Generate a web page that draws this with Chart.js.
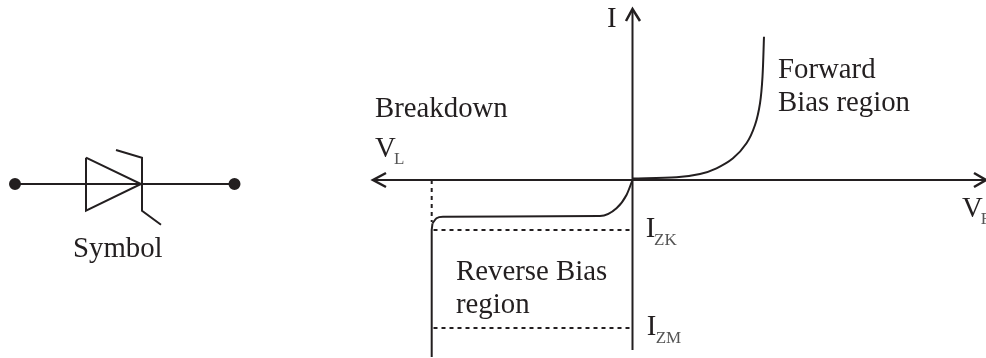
<!DOCTYPE html>
<html>
<head>
<meta charset="utf-8">
<title>Zener diode characteristic</title>
<style>
    html, body { margin: 0; padding: 0; background: #fff; overflow: hidden; }
    canvas { display: block; }
</style>
<script src="https://cdn.jsdelivr.net/npm/chart.js@4/dist/chart.umd.min.js"></script>
</head>
<body>
<canvas id="zener-chart" width="986" height="358"></canvas>
<script>
// all values are in diagram units, with the V-I origin at 0,0

// characteristic curve
const forwardV = [0, 44, 67.5, 84, 100.5, 114, 122.5, 127.5, 130, 131.5];
const forwardI = [1.5, 2.7, 6, 11.7, 21.7, 36.7, 55, 76.7, 103.3, 143.3];
const reverseV = [0, -6, -16, -32.5, -189.5, -196, -200];
const reverseI = [0, -15, -28.3, -36, -36.7, -38.3, -43.3];
const breakdownV = [-200, -200.8, -200.8];
const breakdownI = [-43.3, -50, -177];

// axes and arrow heads
const axisXV = [-259.5, 353.5];
const axisXI = [0, 0];
const axisYV = [0, 0];
const axisYI = [171, -170];
const arrowLeftV = [-246.5, -259.5, -246.5];
const arrowLeftI = [7, 0, -7];
const arrowRightV = [341.5, 353.5, 341.5];
const arrowRightI = [7, 0, -7];
const arrowUpV = [-6.5, 0, 7.5];
const arrowUpI = [159, 171, 159];

// dashed guides
const kneeGuideV = [-200.8, -200.8];
const kneeGuideI = [0, -42];
const izkGuideV = [-199, 0];
const izkGuideI = [-50, -50];
const izmGuideV = [-199, 0];
const izmGuideI = [-148, -148];

// diode symbol
const leadV = [-617.5, -398];
const leadI = [-4, -4];
const terminalV = [-617.5, -398];
const terminalI = [-4, -4];
const triangleV = [-546.5, -546.5, -491.5, -546.5];
const triangleI = [22.3, -30.7, -4, 22.3];
const cathodeV = [-516.5, -490.5, -490.5, -471.5];
const cathodeI = [30, 22.3, -30.7, -44.7];

// text
const labelText = ['Symbol', 'Breakdown', 'V', 'I', 'Forward', 'Bias region', 'V', 'Reverse Bias', 'region', 'I', 'I'];
const labelV = [-559.5, -257.5, -257.5, -25.5, 145.5, 145.5, 329.5, -176.5, -176.5, 13.2, 14.2];
const labelI = [-77, 63.3, 23, 153, 102, 69.3, -37, -100, -132.7, -57, -155];
const subText = ['L', 'F', 'ZK', 'ZM'];
const subV = [-238.5, 348.2, 21.5, 23.2];
const subI = [16, -44, -65, -162.7];

const INK = '#231f20';

function toPoints(xs, ys) {
    return xs.map((x, i) => ({ x, y: ys[i] }));
}

function line(xs, ys, extra) {
    return Object.assign({
        data: toPoints(xs, ys),
        showLine: true,
        borderColor: INK,
        backgroundColor: INK,
        borderWidth: 2,
        pointRadius: 0,
        tension: 0,
        fill: false
    }, extra);
}

function dashed(xs, ys) {
    return line(xs, ys, { borderDash: [4, 4] });
}

// Chart.js has no free text marks, so the labels go through the scales here
const textLabels = {
    id: 'textLabels',
    afterDatasetsDraw(chart) {
        const { ctx, scales: { x, y } } = chart;

        ctx.save();
        ctx.fillStyle = INK;
        ctx.textAlign = 'left';
        ctx.textBaseline = 'alphabetic';

        ctx.font = '28.8px "Liberation Serif"';
        labelText.forEach((text, i) => {
            ctx.fillText(text, x.getPixelForValue(labelV[i]), y.getPixelForValue(labelI[i]));
        });

        ctx.font = '17px "Liberation Serif"';
        ctx.fillStyle = '#555';
        subText.forEach((text, i) => {
            ctx.fillText(text, x.getPixelForValue(subV[i]), y.getPixelForValue(subI[i]));
        });

        ctx.restore();
    }
};

new Chart(document.getElementById('zener-chart'), {
    type: 'scatter',
    data: {
        datasets: [
            line(axisXV, axisXI),
            line(axisYV, axisYI),
            line(arrowLeftV, arrowLeftI, { borderWidth: 2.5 }),
            line(arrowRightV, arrowRightI, { borderWidth: 2.5 }),
            line(arrowUpV, arrowUpI, { borderWidth: 2.5 }),
            dashed(kneeGuideV, kneeGuideI),
            dashed(izkGuideV, izkGuideI),
            dashed(izmGuideV, izmGuideI),
            line(forwardV, forwardI, { tension: 0.3 }),
            line(reverseV, reverseI, { cubicInterpolationMode: 'monotone' }),
            line(breakdownV, breakdownI),
            line(leadV, leadI),
            line(terminalV, terminalI, { showLine: false, pointRadius: 5 }),
            line(triangleV, triangleI),
            line(cathodeV, cathodeI)
        ]
    },
    options: {
        responsive: false,
        animation: false, // static picture
        events: [],
        layout: { padding: 0, autoPadding: false }, // otherwise the points shrink the chart area
        plugins: {
            legend: { display: false },
            title: { display: false },
            tooltip: { enabled: false }
        },
        scales: {
            x: { type: 'linear', display: false, min: -632.5, max: 353.5 },
            y: { type: 'linear', display: false, min: -178, max: 180 }
        }
    },
    plugins: [textLabels]
});
</script>
</body>
</html>
